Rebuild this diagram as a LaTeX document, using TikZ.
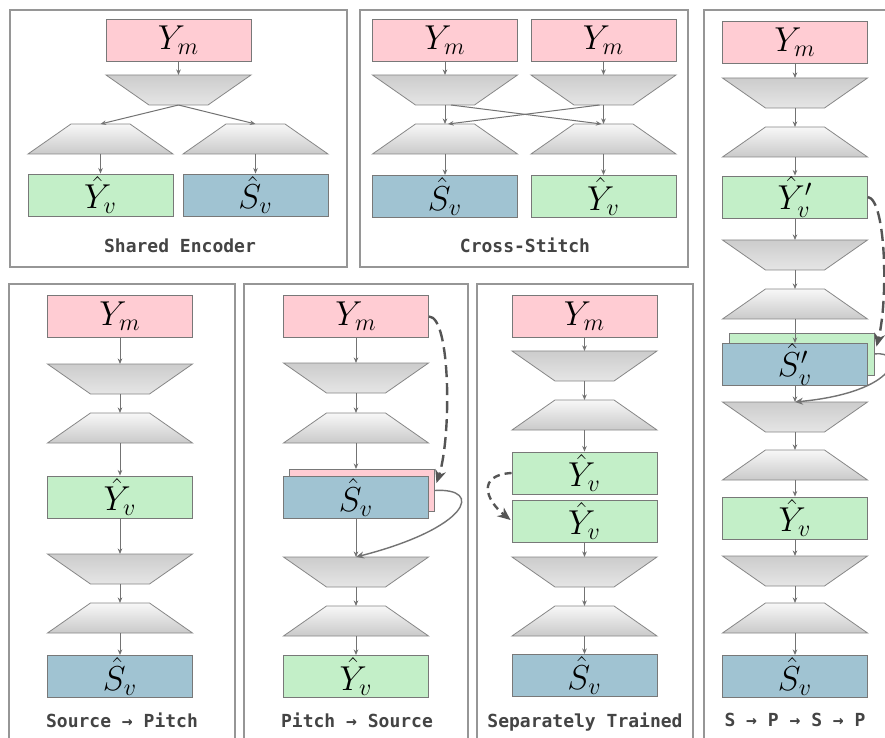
\documentclass[tikz,border=0pt]{standalone}
\usepackage{fontspec}
\newfontfamily\lblfont{DejaVu Sans Mono}
\usetikzlibrary{arrows.meta,calc}
\DeclareMathSizes{17.28}{17.28}{12}{10}
\definecolor{pinkc}{RGB}{255,204,211}
\definecolor{greenc}{RGB}{195,239,200}
\definecolor{bluec}{RGB}{160,195,210}
\definecolor{boxline}{RGB}{120,120,120}
\definecolor{arrowc}{RGB}{115,115,115}
\definecolor{darkc}{RGB}{85,85,85}
\definecolor{panelc}{RGB}{150,150,150}
\definecolor{labelc}{RGB}{68,68,68}
\definecolor{trapline}{RGB}{135,135,135}
\newcommand\encshape[3]{%
  \shadedraw[encstyle] ({#2-72.5},#3) -- ({#2+72.5},#3) -- ({#2+29.5},{#3+30}) -- ({#2-29.5},{#3+30}) -- cycle;
  \coordinate (#1-t) at (#2,#3);
  \coordinate (#1-b) at (#2,{#3+30});}
\newcommand\decshape[3]{%
  \shadedraw[decstyle] ({#2-29.5},#3) -- ({#2+29.5},#3) -- ({#2+72.5},{#3+30}) -- ({#2-72.5},{#3+30}) -- cycle;
  \coordinate (#1-t) at (#2,#3);
  \coordinate (#1-b) at (#2,{#3+30});}
\tikzset{
  blk/.style={draw=boxline, line width=0.45pt, minimum width=72.5pt, minimum height=21pt, inner sep=0pt, font=\fontsize{17.28}{20}\selectfont},
  ymb/.style={blk, fill=pinkc},
  yvb/.style={blk, fill=greenc},
  svb/.style={blk, fill=bluec},
  encstyle/.style={draw=trapline, line width=0.4pt, top color=black!20, middle color=black!3, bottom color=black!10},
  decstyle/.style={draw=trapline, line width=0.4pt, top color=black!3, bottom color=black!21},
  conn/.style={draw=arrowc, line width=0.5pt, -{Stealth[length=2.8pt,width=2.3pt]}},
  dconn/.style={draw=darkc, line width=1.2pt, dash pattern=on 6pt off 3pt, -{Stealth[length=6.5pt,width=5.5pt]}},
  sconn/.style={draw=arrowc, line width=0.7pt, -{Stealth[length=4pt,width=3.5pt]}},
  panel/.style={draw=panelc, line width=1.3pt},
  lbl/.style={font=\lblfont\bfseries\fontsize{9}{10}\selectfont, text=labelc, anchor=base, inner sep=0pt}
}
\begin{document}
\begin{tikzpicture}[x=0.5pt,y=-0.5pt]
\path[use as bounding box, clip] (0,0) rectangle (885,738);
\fill[white] (0,0) rectangle (885,738);
% panels
\draw[panel] (10,10) rectangle (347,267);
\draw[panel] (360,10) rectangle (688,267);
\draw[panel] (704,10) rectangle (900,760);
\draw[panel] (9,284) rectangle (235,760);
\draw[panel] (244,284) rectangle (468,760);
\draw[panel] (477,284) rectangle (693,760);

% ---------- Panel 1: Shared Encoder
\node[ymb] (a-ym) at (178.5,40) {$Y_m$};
\encshape{a-e}{178.5}{75}
\decshape{a-d1}{100.5}{124}
\decshape{a-d2}{255.5}{124}
\node[yvb] (a-yv) at (100.5,195) {$\hat{Y}_v$};
\node[svb] (a-sv) at (255.5,195) {$\hat{S}_v$};
\draw[conn] (a-ym) -- (a-e-t);
\draw[conn] (a-e-b) -- (a-d1-t);
\draw[conn] (a-e-b) -- (a-d2-t);
\draw[conn] (a-d1-b) -- (a-yv);
\draw[conn] (a-d2-b) -- (a-sv);
\node[lbl] (a-lbl) at (180,253) {Shared Encoder};

% ---------- Panel 2: Cross-Stitch
\node[ymb] (b-ym1) at (445,40) {$Y_m$};
\node[ymb] (b-ym2) at (603.5,40) {$Y_m$};
\encshape{b-e1}{445}{75}
\encshape{b-e2}{603.5}{75}
\decshape{b-d1}{445}{124}
\decshape{b-d2}{603.5}{124}
\node[svb] (b-sv) at (445,196.5) {$\hat{S}_v$};
\node[yvb] (b-yv) at (603.5,196.5) {$\hat{Y}_v$};
\draw[conn] (b-ym1) -- (b-e1-t);
\draw[conn] (b-ym2) -- (b-e2-t);
\draw[conn] (b-e1-b) -- (b-d1-t);
\draw[conn] (b-e2-b) -- (b-d2-t);
\draw[conn] ($(b-e1-b)+(6,0)$) -- ($(b-d2-t)+(-2,0)$);
\draw[conn] ($(b-e2-b)+(-4,0)$) -- ($(b-d1-t)+(3,0)$);
\draw[conn] (b-d1-b) -- (b-sv);
\draw[conn] (b-d2-b) -- (b-yv);
\node[lbl] (b-lbl) at (525,253) {Cross-Stitch};

% ---------- Panel 3: S -> P -> S -> P
\node[ymb] (c-ym) at (795,42) {$Y_m$};
\encshape{c-e1}{795}{78}
\decshape{c-d1}{795}{127}
\node[yvb] (c-yvp) at (795,197) {$\hat{Y}'_v$};
\encshape{c-e2}{795}{240}
\decshape{c-d2}{795}{289}
\node[yvb] (c-back) at (801.5,354) {};
\node[svb] (c-svp) at (795,364.5) {$\hat{S}'_v$};
\draw[conn] (c-d2-b) -- (c-svp);
\encshape{c-e3}{795}{402}
\decshape{c-d3}{795}{450}
\node[yvb] (c-yv) at (795,518) {$\hat{Y}_v$};
\encshape{c-e4}{795}{556}
\decshape{c-d4}{795}{603}
\node[svb] (c-sv) at (795,676.5) {$\hat{S}_v$};
\draw[conn] (c-ym) -- (c-e1-t);
\draw[conn] (c-e1-b) -- (c-d1-t);
\draw[conn] (c-d1-b) -- (c-yvp);
\draw[conn] (c-yvp) -- (c-e2-t);
\draw[conn] (c-e2-b) -- (c-d2-t);
\draw[conn] (c-svp) -- (c-e3-t);
\draw[conn] (c-e3-b) -- (c-d3-t);
\draw[conn] (c-d3-b) -- (c-yv);
\draw[conn] (c-yv) -- (c-e4-t);
\draw[conn] (c-e4-b) -- (c-d4-t);
\draw[conn] (c-d4-b) -- (c-sv);
\draw[dconn] (c-yvp.east) .. controls +(18,3) and +(12,-47) .. ($(c-back.north east)+(2,14)$);
\draw[sconn] (c-back.east) .. controls +(31,-4) and +(105,-10) .. (c-e3-t);
\node[lbl] (c-lbl) at (795,726) {S → P → S → P};

% ---------- Panel 4: Source -> Pitch
\node[ymb] (d-ym) at (120,316) {$Y_m$};
\encshape{d-e1}{120}{364}
\decshape{d-d1}{120}{413}
\node[yvb] (d-yv) at (120,497) {$\hat{Y}_v$};
\encshape{d-e2}{120}{554}
\decshape{d-d2}{120}{603}
\node[svb] (d-sv) at (120,676.5) {$\hat{S}_v$};
\draw[conn] (d-ym) -- (d-e1-t);
\draw[conn] (d-e1-b) -- (d-d1-t);
\draw[conn] (d-d1-b) -- (d-yv);
\draw[conn] (d-yv) -- (d-e2-t);
\draw[conn] (d-e2-b) -- (d-d2-t);
\draw[conn] (d-d2-b) -- (d-sv);
\node[lbl] (d-lbl) at (122,727) {Source → Pitch};

% ---------- Panel 5: Pitch -> Source
\node[ymb] (e-ym) at (356,316.5) {$Y_m$};
\encshape{e-e1}{356}{363}
\decshape{e-d1}{356}{413}
\node[ymb] (e-back) at (361.5,490.5) {};
\node[svb] (e-sv) at (356,497.5) {$\hat{S}_v$};
\encshape{e-e2}{356}{557}
\decshape{e-d2}{356}{606}
\node[yvb] (e-yv) at (356,676.5) {$\hat{Y}_v$};
\draw[conn] (e-ym) -- (e-e1-t);
\draw[conn] (e-e1-b) -- (e-d1-t);
\draw[conn] (e-d1-b) -- (e-d1-b |- e-back.north);
\draw[conn] (e-sv) -- (e-e2-t);
\draw[conn] (e-e2-b) -- (e-d2-t);
\draw[conn] (e-d2-b) -- (e-yv);
\draw[dconn] (e-ym.east) .. controls +(22,0) and +(15,-45) .. ($(e-back.north east)+(2,14)$);
\draw[sconn] (e-back.east) .. controls +(50,-3) and +(113,-29) .. (e-e2-t);
\node[lbl] (e-lbl) at (357,727) {Pitch → Source};

% ---------- Panel 6: Separately Trained
\node[ymb] (f-ym) at (584.5,316.5) {$Y_m$};
\encshape{f-e1}{584.5}{351}
\decshape{f-d1}{584.5}{400}
\node[yvb] (f-yv1) at (584.5,473) {$\hat{Y}_v$};
\node[yvb] (f-yv2) at (584.5,521) {$\hat{Y}_v$};
\encshape{f-e2}{584.5}{557}
\decshape{f-d2}{584.5}{606}
\node[svb] (f-sv) at (584.5,675.5) {$\hat{S}_v$};
\draw[conn] (f-ym) -- (f-e1-t);
\draw[conn] (f-e1-b) -- (f-d1-t);
\draw[conn] (f-d1-b) -- (f-yv1);
\draw[conn] (f-yv2) -- (f-e2-t);
\draw[conn] (f-e2-b) -- (f-d2-t);
\draw[conn] (f-d2-b) -- (f-sv);
\draw[dconn, dash pattern=on 3.5pt off 2.5pt] (f-yv1.west) .. controls +(-35,2) and +(-25,-20) .. ($(f-yv2.west)+(-1,-1)$);
\node[lbl] (f-lbl) at (585,727) {Separately Trained};
\end{tikzpicture}
\end{document}
